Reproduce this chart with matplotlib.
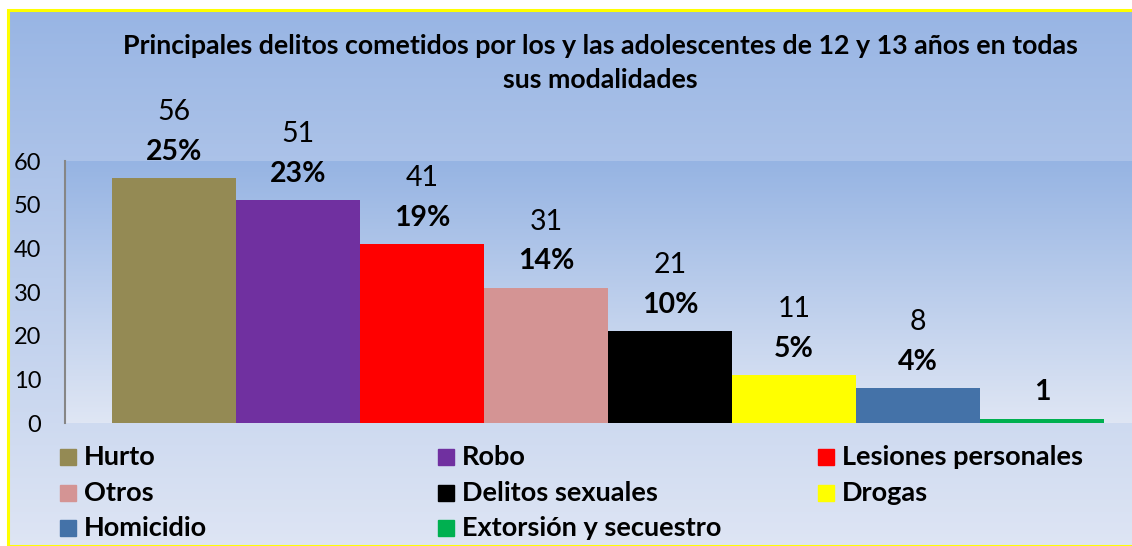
import numpy as np
import matplotlib
matplotlib.use("Agg")
import matplotlib.pyplot as plt
from matplotlib.patches import Rectangle

categories = ["Hurto", "Robo", "Lesiones personales", "Otros", "Delitos sexuales",
              "Drogas", "Homicidio", "Extorsión y secuestro"]
values = [56, 51, 41, 31, 21, 11, 8, 1]
pct_labels = ["25%", "23%", "19%", "14%", "10%", "5%", "4%", "1"]
colors = ["#948A54", "#7030A0", "#FF0000", "#D49494", "#000000",
          "#FFFF00", "#4472A8", "#00B050"]
yticks = [0, 10, 20, 30, 40, 50, 60]

plt.rcParams["font.family"] = ["Lato", "DejaVu Sans"]

W, H = 1132, 546
fig = plt.figure(figsize=(W / 100, H / 100), dpi=100)

def grad(c_top, c_bot, n=256):
    t = np.linspace(0, 1, n)[:, None]
    a = np.array(c_top) / 255.0
    b = np.array(c_bot) / 255.0
    return (a + (b - a) * t)[:, None, :].repeat(2, axis=1)

# chart area background (gradient) with yellow border
bx, by = 8 / W, 0
bw, bh = 1 - bx, 1 - 10 / H
bg = fig.add_axes([bx, by, bw, bh], zorder=0)
bg.imshow(grad((152, 181, 228), (222, 229, 244)), aspect="auto", extent=[0, 1, 0, 1])
bg.set_axis_off()
fig.add_artist(Rectangle((bx, by), bw + 0.01, bh, transform=fig.transFigure,
                         fill=False, edgecolor="#FFFF00", linewidth=2.2, zorder=5))

# plot area
l, r, t, b = 65, 1132, 161, 423
ax = fig.add_axes([l / W, 1 - b / H, (r - l) / W, (b - t) / H], zorder=1)
ax.imshow(grad((150, 180, 227), (223, 230, 244)), aspect="auto",
          extent=[0, 1, 0, 1], transform=ax.transAxes, zorder=0)

x = np.arange(len(categories))
ax.bar(x, values, width=1.0, color=colors, zorder=2)
ax.set_xlim(-0.879, 7.726)
ax.set_ylim(0, 60)
ax.set_yticks(yticks)
ax.set_xticks([])
ax.tick_params(axis="y", length=0, labelsize=17, pad=17)
for s in ["top", "right", "bottom"]:
    ax.spines[s].set_visible(False)
ax.spines["left"].set_color("#868686")
ax.spines["left"].set_linewidth(1.5)

for i, v in enumerate(values):
    if i < len(values) - 1:
        ax.annotate(str(v), (x[i], v), xytext=(0, 47.5), textcoords="offset points",
                    ha="center", va="center", fontsize=20.5, annotation_clip=False, zorder=3)
    ax.annotate(pct_labels[i], (x[i], v), xytext=(0, 19), textcoords="offset points",
                ha="center", va="center", fontsize=20.5, fontweight="bold",
                annotation_clip=False, zorder=3)

fig.text(600 / W, 1 - 46 / H, "Principales delitos cometidos por los y las adolescentes de 12 y 13 años en todas",
         ha="center", va="center", fontsize=19.3, fontweight="bold", zorder=6)
fig.text(600 / W, 1 - 80 / H, "sus modalidades",
         ha="center", va="center", fontsize=19.3, fontweight="bold", zorder=6)

# legend: 3 columns
col_x = [60, 438, 818]
row_y = [457, 493, 528]
for i, name in enumerate(categories):
    cx, cy = col_x[i % 3], row_y[i // 3]
    fig.add_artist(Rectangle(((cx) / W, 1 - (cy + 8) / H), 16 / W, 16 / H,
                             transform=fig.transFigure, color=colors[i], zorder=6))
    fig.text((cx + 24) / W, 1 - cy / H, name, ha="left", va="center",
             fontsize=19.5, fontweight="bold", zorder=6)

fig.savefig("out.png", dpi=100)
